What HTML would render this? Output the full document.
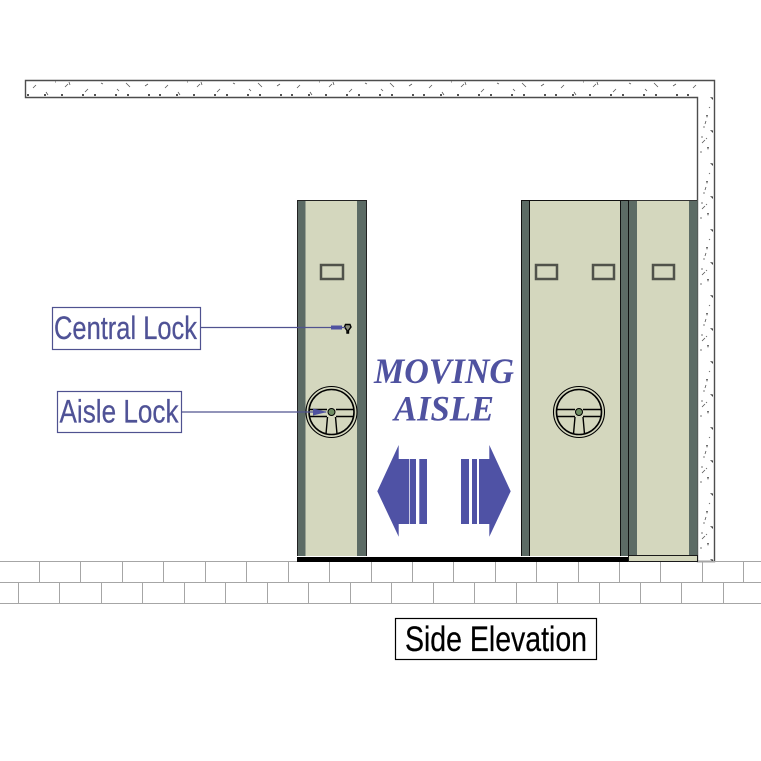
<!DOCTYPE html>
<html>
<head>
<meta charset="utf-8">
<style>
html,body{margin:0;padding:0;background:#fff;width:761px;height:761px;overflow:hidden}
svg{display:block}
text{font-family:"Liberation Sans",sans-serif}
</style>
</head>
<body>
<svg width="761" height="761" viewBox="0 0 761 761" xmlns="http://www.w3.org/2000/svg">
<defs>
<pattern id="topspeck" x="25" y="80" width="132" height="17" patternUnits="userSpaceOnUse">
<path d="M8 8l3-3M21 12l2 3M40 7l3-3M44 2l1 3M60 12l3-3M76 3l2 1M92 9l2 2M101 3l4 4M120 6l3-2M30 2h1" stroke="#555" stroke-width=".8" fill="none"/>
<path d="M2 14h2v2h-2zM19 14h2v2h-2zM36 14h2v2h-2zM57 14h2v2h-2zM69 14h2v2h-2zM90 14h2v2h-2zM102 14h2v2h-2zM123 14h2v2h-2z" fill="#555"/>
</pattern>
<pattern id="sidespeck" x="697" y="97" width="17" height="66" patternUnits="userSpaceOnUse">
<path d="M13 0l3 .5v2.500zM13 33l3 .5v2.500z" fill="#444"/>
<path d="M9 18h2l-1 3zM10 50h2l-1 3z" fill="#555"/>
<path d="M9 24l-1 3M5 39v2M5 46l3-3M9 41l1 1M4 54v2M6 30h2M12 10l1 1" stroke="#555" stroke-width=".8" fill="none"/>
</pattern>
</defs>

<!-- wall -->
<path d="M25.500 80.500H714.500V561.500H697.500V97.500H25.500Z" fill="#fff"/>
<rect x="25" y="80" width="672" height="17" fill="url(#topspeck)"/>
<rect x="697" y="97" width="17" height="464" fill="url(#sidespeck)"/>
<path d="M25.500 80.500H714.500V561.500H697.500V97.500H25.500Z" fill="none" stroke="#4d4d4d" stroke-width="1.400"/>

<!-- floor bricks -->
<g stroke="#a6a6a6" stroke-width="1" fill="none">
<path d="M0 561.500H761M0 582.500H761M0 603.500H761"/>
<path d="M39.500 561.500v21M80.500 561.500v21M122.500 561.500v21M163.500 561.500v21M205.500 561.500v21M246.500 561.500v21M288.500 561.500v21M329.500 561.500v21M371.500 561.500v21M412.500 561.500v21M453.500 561.500v21M495.500 561.500v21M536.500 561.500v21M578.500 561.500v21M619.500 561.500v21M660.500 561.500v21M702.500 561.500v21M743.500 561.500v21"/>
<path d="M18.500 582.500v21M59.500 582.500v21M101.500 582.500v21M142.500 582.500v21M184.500 582.500v21M225.500 582.500v21M267.500 582.500v21M308.500 582.500v21M350.500 582.500v21M391.500 582.500v21M433.500 582.500v21M474.500 582.500v21M516.500 582.500v21M557.500 582.500v21M599.500 582.500v21M640.500 582.500v21M681.500 582.500v21M723.500 582.500v21"/>
</g>

<!-- base -->
<rect x="297" y="557" width="332" height="5" fill="#000"/>
<rect x="628.500" y="555.500" width="69" height="6" fill="#d3d6bc" stroke="#1a1a1a" stroke-width="1"/>

<!-- carriage 1 -->
<rect x="297" y="200" width="70" height="356" fill="#d4d7be"/>
<rect x="297" y="200" width="8.500" height="356" fill="#5c6b65"/>
<rect x="357" y="200" width="10" height="356" fill="#5c6b65"/>
<path d="M297.500 556V200.500H366.500V556" fill="none" stroke="#222" stroke-width="1"/>
<rect x="321" y="265" width="22" height="14" fill="none" stroke="#50524a" stroke-width="2.500"/>

<!-- carriage 2 -->
<rect x="521" y="200" width="108" height="356" fill="#d4d7be"/>
<rect x="521" y="200" width="8.500" height="356" fill="#5c6b65"/>
<rect x="620" y="200" width="9" height="356" fill="#5c6b65"/>
<path d="M521.500 556V200.500H628.500V556M529.500 200V556M620.500 200V556" fill="none" stroke="#111" stroke-width="1"/>
<rect x="536" y="265" width="21" height="14" fill="none" stroke="#50524a" stroke-width="2.500"/>
<rect x="593" y="265" width="21" height="14" fill="none" stroke="#50524a" stroke-width="2.500"/>

<!-- carriage 3 -->
<rect x="629" y="200" width="68.500" height="355" fill="#d4d7be"/>
<rect x="629" y="200" width="8" height="355" fill="#5c6b65"/>
<rect x="689" y="200" width="8.500" height="355" fill="#5c6b65"/>
<path d="M629 200.500H697" fill="none" stroke="#333" stroke-width="1"/>
<rect x="653" y="265" width="21" height="14" fill="none" stroke="#50524a" stroke-width="2.500"/>

<!-- wheel 1 -->
<g fill="none" stroke="#000">
<circle cx="331.500" cy="412" r="25.500" stroke-width="1.100"/>
<circle cx="331.500" cy="412" r="22.500" stroke-width="1.600"/>
<path d="M309 409.500H327M309 416.500H327M336 409.500H354M336 416.500H354M327.500 417L326 434M335.500 417L337 434" stroke-width="1.400"/>
<circle cx="331.500" cy="412" r="3.500" fill="#6f8d63" stroke-width="1"/>
</g>
<!-- wheel 2 -->
<g fill="none" stroke="#000">
<circle cx="579" cy="412" r="25.500" stroke-width="1.100"/>
<circle cx="579" cy="412" r="22.500" stroke-width="1.600"/>
<path d="M557 409.500H575M557 416.500H575M583 409.500H601M583 416.500H601M575 417L573.500 434M583 417L584.500 434" stroke-width="1.400"/>
<circle cx="579" cy="412" r="3.500" fill="#6f8d63" stroke-width="1"/>
</g>

<!-- central lock glyph -->
<path d="M345.500 324.500h4.500l1 2.500l-2.500 3.500v2.500h-1.500v-2.500l-2.500-3.500z" fill="#8b8d7c" stroke="#000" stroke-width="1.400"/>

<!-- leaders -->
<g stroke="#50538f" fill="none" stroke-width="1.200">
<path d="M200.500 327.500H345"/>
<path d="M181 412H326"/>
</g>
<rect x="331" y="325.500" width="11" height="4" fill="#4f52a0"/>
<path d="M313 408.500L327 412L313 415.500Z" fill="#4f52a0"/>

<!-- label boxes -->
<rect x="52.500" y="307.500" width="148" height="42" fill="#fff" stroke="#4f5290" stroke-width="1.200"/>
<text x="54" y="339" font-size="32" fill="#4f5296" stroke="#4f5296" stroke-width=".25" textLength="143" lengthAdjust="spacingAndGlyphs">Central Lock</text>
<rect x="57.500" y="391.500" width="124" height="41" fill="#fff" stroke="#4f5290" stroke-width="1.200"/>
<text x="59.500" y="422.500" font-size="32" fill="#4f5296" stroke="#4f5296" stroke-width=".25" textLength="119" lengthAdjust="spacingAndGlyphs">Aisle Lock</text>

<!-- side elevation -->
<rect x="395.500" y="618.500" width="201" height="41" fill="#fff" stroke="#000" stroke-width="1.200"/>
<text x="405" y="651" font-size="35" fill="#000" stroke="#000" stroke-width=".25" textLength="182" lengthAdjust="spacingAndGlyphs">Side Elevation</text>

<!-- moving aisle -->
<text x="374" y="383" style="font-family:'Liberation Serif',serif" font-weight="bold" font-style="italic" font-size="36" fill="#4f52a0" textLength="140" lengthAdjust="spacingAndGlyphs">MOVING</text>
<text x="394" y="420.500" style="font-family:'Liberation Serif',serif" font-weight="bold" font-style="italic" font-size="36" fill="#4f52a0" textLength="100" lengthAdjust="spacingAndGlyphs">AISLE</text>

<!-- arrows -->
<g fill="#4f52a5">
<path d="M377.300 491.300L398.700 445V459H409V524H398.700V536.700Z"/>
<rect x="409.700" y="459" width="6.300" height="65"/>
<rect x="419.300" y="459" width="7.700" height="65"/>
<path d="M510.700 491.300L489.300 445V459H479V524H489.300V536.700Z"/>
<rect x="472" y="459" width="5" height="65"/>
<rect x="461" y="459" width="8" height="65"/>
</g>
</svg>
</body>
</html>
